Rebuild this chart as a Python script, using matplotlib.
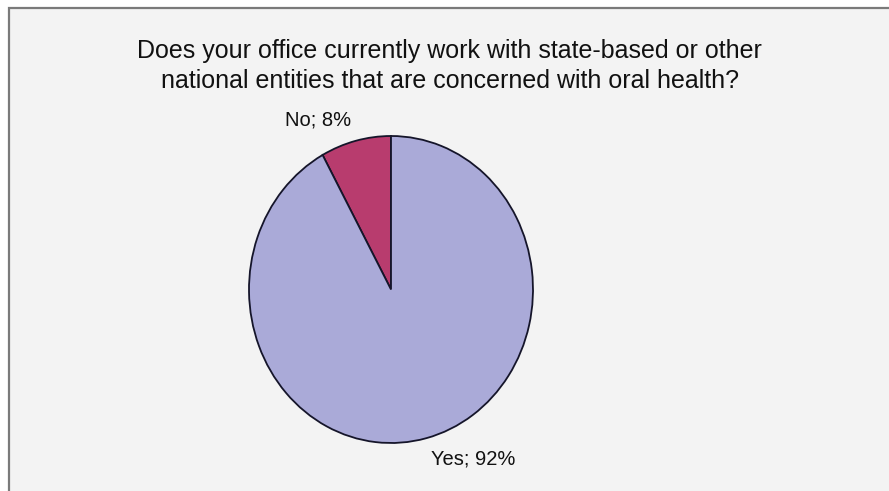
import matplotlib
matplotlib.use('Agg')
import matplotlib.pyplot as plt
from matplotlib.patches import Rectangle

plt.rcParams['font.family'] = ['Liberation Sans', 'DejaVu Sans']

#########################################################

TITLE = ('Does your office currently work with state-based or other\n'
         'national entities that are concerned with oral health?')

CATEGORIES = ['No', 'Yes']
SHARES = [8, 92]
COLORS = ['#b83c6e', '#aaaad8']

#########################################################

W, H = 889, 491
fig = plt.figure(figsize=(W / 100, H / 100), dpi=100)
fig.patch.set_facecolor('white')

# chart area box (only the top and left borders are inside the image)
fig.patches.append(Rectangle((9 / W, -0.1), 1.1, (H - 8) / H + 0.1,
                             transform=fig.transFigure, facecolor='#f3f3f3',
                             edgecolor='#7a7a7a', linewidth=1.6, zorder=-5))

fig.text(449.5 / W, 1 - 66 / H, TITLE, ha='center', va='center',
         fontsize=18, color='#111111', linespacing=1.3)

# pie is stretched a bit vertically, so use an 'auto' aspect axes
ax = fig.add_axes([249 / W, (H - 443) / H, 284 / W, 307 / H], zorder=2)
ax.patch.set_visible(False)
labels = [f'{c}; {s}%' for c, s in zip(CATEGORIES, SHARES)]
wedges, texts = ax.pie(SHARES, labels=labels, colors=COLORS, startangle=90,
                       counterclock=True, labeldistance=1.14,
                       wedgeprops=dict(edgecolor='#15152a', linewidth=1.3),
                       textprops=dict(fontsize=14.5, color='#111111'))
ax.set_aspect('auto')
ax.set_xlim(-1, 1)
ax.set_ylim(-1, 1)
ax.axis('off')

fig.savefig('out.png', dpi=100)
